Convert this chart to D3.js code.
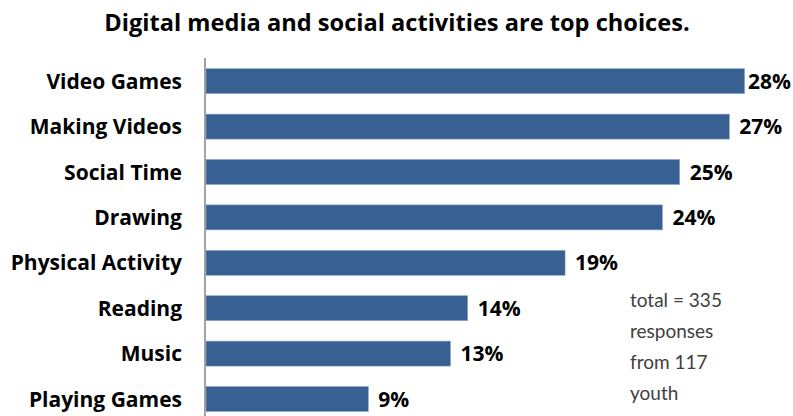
<!DOCTYPE html>
<html>
<head>
<meta charset="utf-8">
<script src="https://cdn.jsdelivr.net/npm/d3@7"></script>
<style>
  body { margin: 0; background: #fff; }
  svg { display: block; font-family: "Open Sans", Lato, sans-serif; }
</style>
</head>
<body>
<div id="chart"></div>
<script>
var svgWidth = 793;
var svgHeight = 416;

// data (share of youth, %)
var activities = ["Video Games", "Making Videos", "Social Time", "Drawing",
  "Physical Activity", "Reading", "Music", "Playing Games"];
var shares = [28.2, 27.4, 24.8, 23.9, 18.8, 13.7, 12.8, 8.5];
var noteLines = ["total = 335", "responses", "from 117", "youth"];
var titleText = "Digital media and social activities are top choices.";

var svg = d3.select("#chart")
  .append("svg")
  .attr("width", svgWidth)
  .attr("height", svgHeight);

// scales
var xScale = d3.scaleLinear()
  .domain([0, 30])
  .range([206, 779]);

var yScale = d3.scaleBand()
  .domain(activities)
  .range([58.5, 421.7])
  .paddingInner(0.45)
  .paddingOuter(0.225);

// title
svg.append("text")
  .attr("x", 397)
  .attr("y", 31)
  .attr("text-anchor", "middle")
  .attr("font-size", "23.6px")
  .attr("font-weight", "bold")
  .attr("fill", "#000")
  .text(titleText);

// bars
svg.selectAll("rect.bar")
  .data(shares)
  .enter()
  .append("rect")
  .attr("class", "bar")
  .attr("x", xScale(0))
  .attr("y", (d, i) => yScale(activities[i]))
  .attr("width", d => xScale(d) - xScale(0))
  .attr("height", yScale.bandwidth())
  .attr("fill", "#386092")
  .attr("stroke", "#8ea6c7")
  .attr("stroke-width", 0.6);

// left axis: line only, labels bold
var leftAxis = d3.axisLeft(yScale).tickSize(0).tickPadding(23);
var yAxis = svg.append("g")
  .attr("transform", "translate(205, 0)")
  .call(leftAxis);

yAxis.select(".domain")
  .attr("d", "M0,58V416")
  .attr("stroke", "#8c8c8c")
  .attr("stroke-width", 1.6);

yAxis.selectAll("text")
  .attr("font-family", "'Open Sans', sans-serif")
  .attr("font-size", "21px")
  .attr("font-weight", "bold")
  .attr("fill", "#000")
  .attr("dy", "0.36em");

// value labels
var valueLabels = svg.selectAll("text.value")
  .data(shares)
  .enter()
  .append("text")
  .attr("class", "value")
  .attr("x", d => xScale(d) + 10)
  .attr("y", (d, i) => yScale(activities[i]) + yScale.bandwidth() / 2 + 7.6)
  .attr("font-size", "21px")
  .attr("font-weight", "bold")
  .attr("fill", "#000")
  .text(d => Math.round(d) + "%");

// keep the top label inside the picture
valueLabels.each(function() {
  var w = this.getComputedTextLength();
  var x = +d3.select(this).attr("x");
  if (x + w > svgWidth - 2) d3.select(this).attr("x", svgWidth - 2 - w);
});

// note
svg.append("text")
  .attr("x", 630)
  .attr("y", 307)
  .attr("font-size", "19px")
  .attr("font-family", "Lato, sans-serif")
  .attr("fill", "#404040")
  .selectAll("tspan")
  .data(noteLines)
  .enter()
  .append("tspan")
  .attr("x", 630)
  .attr("dy", (d, i) => i === 0 ? 0 : 31)
  .text(d => d);
</script>
</body>
</html>
